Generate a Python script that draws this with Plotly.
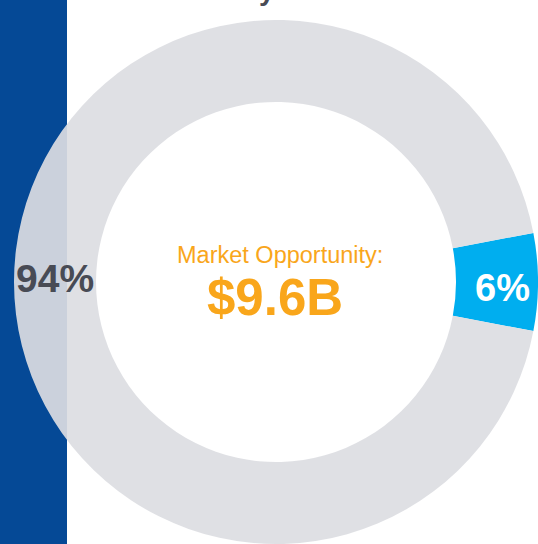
import plotly.graph_objects as go

# Share of the market opportunity
labels = ["Captured", "Remaining"]
shares = [6, 94]
slice_colors = ["#00AEEF", "rgba(220,221,226,0.92)"]
center_caption = "Market Opportunity:"
center_value = "$9.6B"
title_text = "Industry"

W, H = 538, 544
cx, cy, R, r_in = 276, 282, 262, 180

fig = go.Figure()

fig.add_trace(go.Pie(
    labels=labels,
    values=shares,
    sort=False,
    direction="clockwise",
    rotation=90 - shares[0] / 100 * 360 / 2,
    hole=r_in / R,
    marker=dict(colors=slice_colors, line=dict(width=0)),
    textinfo="none",
    hoverinfo="label+percent",
    showlegend=False,
    domain=dict(x=[(cx - R) / W, min(1, (cx + R) / W)],
                y=[max(0, 1 - (cy + R) / H), 1 - (cy - R) / H]),
))


def px(x):
    return x / W


def py(y):
    return 1 - y / H


font_family = "Liberation Sans, Arial"
annotations = [
    dict(x=px(55), y=py(278), text=f"<b>{shares[1]}%</b>",
         font=dict(family=font_family, size=39, color="#484B55"),
         showarrow=False, xanchor="center", yanchor="middle"),
    dict(x=px(502), y=py(288), text=f"<b>{shares[0]}%</b>",
         font=dict(family=font_family, size=38, color="#FFFFFF"),
         showarrow=False, xanchor="center", yanchor="middle"),
    dict(x=px(279.5), y=py(255), text=center_caption,
         font=dict(family=font_family, size=23.5, color="#F9A61B"),
         showarrow=False, xanchor="center", yanchor="middle"),
    dict(x=px(275), y=py(297), text=f"<b>{center_value}</b>",
         font=dict(family=font_family, size=51, color="#F9A61B"),
         showarrow=False, xanchor="center", yanchor="middle"),
    dict(x=px(277), y=py(8), text=f"<b>{title_text}</b>",
         font=dict(family=font_family, size=28, color="#484B55"),
         showarrow=False, xanchor="right", yanchor="bottom"),
]

fig.update_layout(
    width=W, height=H,
    margin=dict(l=0, r=0, t=0, b=0),
    paper_bgcolor="#FFFFFF",
    plot_bgcolor="#FFFFFF",
    annotations=annotations,
    shapes=[dict(type="rect", xref="paper", yref="paper",
                 x0=0, x1=px(67), y0=0, y1=1,
                 fillcolor="#054996", line=dict(width=0), layer="below")],
)

fig.write_html("out.html")
